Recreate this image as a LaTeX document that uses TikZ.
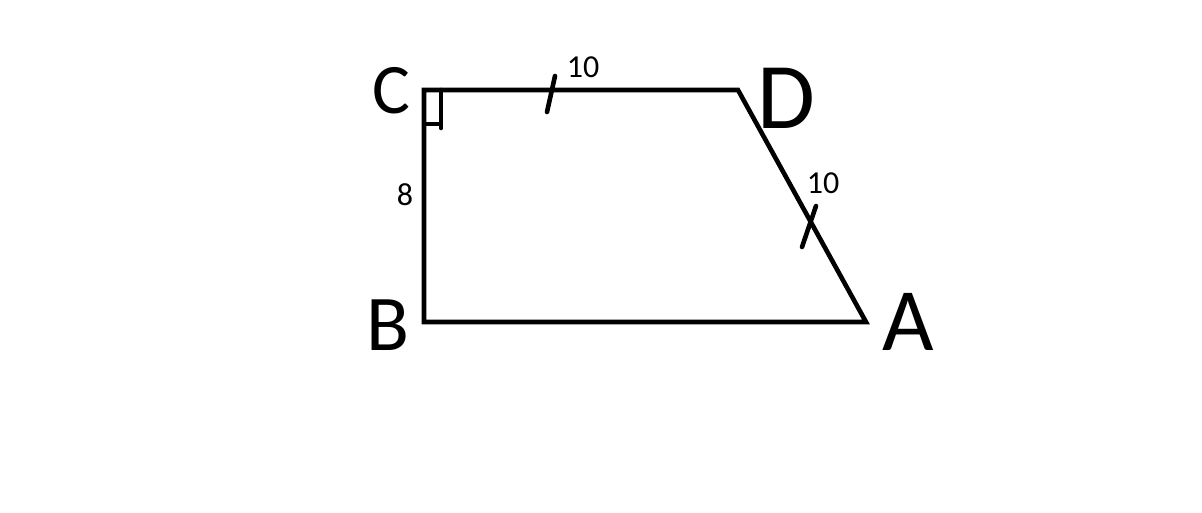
\documentclass[tikz,border=0pt]{standalone}
\usepackage{fontspec}
\setmainfont{Carlito}
\begin{document}
\begin{tikzpicture}[x=1pt,y=-1pt,
  edge/.style={line width=4.6pt,line cap=butt,line join=miter},
  tick/.style={line width=4.6pt,line cap=round},
  bigl/.style={inner sep=0pt,font=\fontsize{#1}{#1}\selectfont},
  small/.style={inner sep=0pt,font=\fontsize{32}{32}\selectfont}]
\useasboundingbox[fill=white] (0,0) rectangle (1202,512);
\coordinate (C) at (424,90);
\coordinate (D) at (738,90);
\coordinate (A) at (866,322);
\coordinate (B) at (424,322);
\draw[edge] (B) -- (C) -- (D) -- (A) -- cycle;
% right angle mark
\coordinate (r1) at (424,124);
\coordinate (r2) at (441,124);
\coordinate (r3) at (441,90);
\coordinate (r4) at (441,128);
\draw[line width=4.6pt] (r1) -- (r2);
\draw[line width=4.6pt,line cap=round] (r3) -- (r4);
% ticks
\coordinate (t1a) at (547,112);
\coordinate (t1b) at (555,76);
\draw[tick] (t1a) -- (t1b);
\coordinate (t2a) at (802,247);
\coordinate (t2b) at (816,206);
\draw[tick] (t2a) -- (t2b);
% labels
\node[bigl=71] (lC) at (391,91) {C};
\node[bigl=94] (lD) at (786,98) {D};
\node[bigl=89] (lA) at (908,322) {A};
\node[bigl=79] (lB) at (388,325) {B};
\node[small] (l1) at (583,67) {10};
\node[small] (l2) at (823,183) {10};
\node[small] (l3) at (405,195) {8};
\end{tikzpicture}
\end{document}
